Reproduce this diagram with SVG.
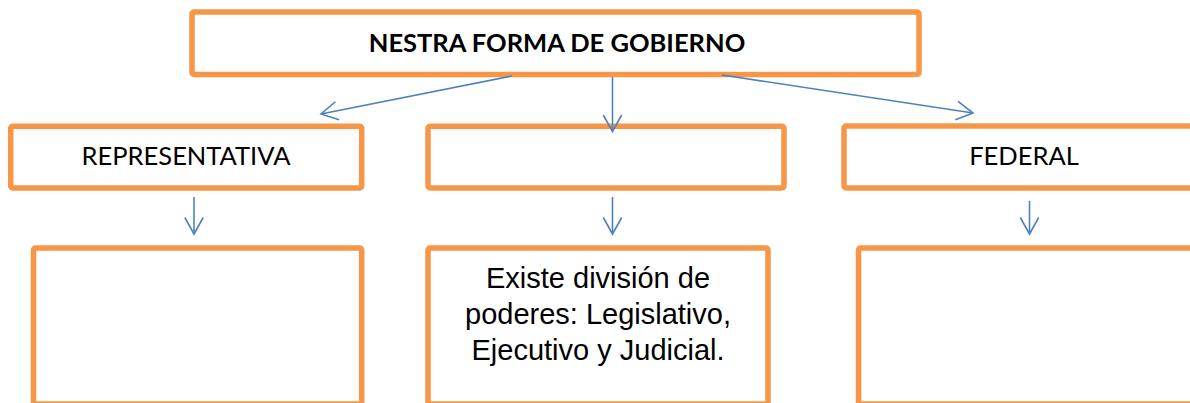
<svg xmlns="http://www.w3.org/2000/svg" width="1190" height="403" viewBox="0 0 1190 403">
  <defs>
    <marker id="arr" markerUnits="userSpaceOnUse" markerWidth="40" markerHeight="40" refX="0" refY="0" viewBox="-20 -20 40 40" orient="auto" overflow="visible">
      <path d="M -16.5 -9.2 L 0 0 L -16.5 9.2" fill="none" stroke="#4F81BD" stroke-width="1.6"/>
    </marker>
  </defs>
  <style>
    .box { fill: #FFFFFF; stroke: #F79646; stroke-width: 5.5; }
    .cal { font-family: Lato, "Liberation Sans", sans-serif; font-size: 25.5px; fill: #000000; text-anchor: middle; }
    .bold { font-weight: bold; font-size: 25.5px; }
    .ari { font-family: "Liberation Sans", Arial, sans-serif; font-size: 29px; fill: #000000; text-anchor: middle; }
    .conn { fill: none; stroke: #4F81BD; stroke-width: 1.6; marker-end: url(#arr); }
  </style>
  <rect width="1190" height="403" fill="#FFFFFF"/>

  <g id="n-top">
    <rect class="box" x="192" y="12" width="727" height="62.5" rx="2"/>
    <text class="cal bold" x="557" y="52">NESTRA FORMA DE GOBIERNO</text>
  </g>
  <g id="n-representativa">
    <rect class="box" x="10.7" y="126.3" width="351" height="61.7" rx="2"/>
    <text class="cal" x="186" y="165">REPRESENTATIVA</text>
  </g>
  <g id="n-middle">
    <rect class="box" x="428" y="126.3" width="356" height="61.7" rx="2"/>
  </g>
  <g id="n-federal">
    <rect class="box" x="844" y="126" width="360" height="62" rx="2"/>
    <text class="cal" x="1024" y="165">FEDERAL</text>
  </g>
  <g id="n-left-bottom">
    <rect class="box" x="33.5" y="248" width="328.2" height="156" rx="2"/>
  </g>
  <g id="n-division">
    <rect class="box" x="428" y="248" width="340" height="156" rx="2"/>
    <text class="ari" x="598" y="288">Existe división de</text>
    <text class="ari" x="598" y="324">poderes: Legislativo,</text>
    <text class="ari" x="598" y="360">Ejecutivo y Judicial.</text>
  </g>
  <g id="n-right-bottom">
    <rect class="box" x="858.5" y="248" width="345" height="156" rx="2"/>
  </g>

  <g id="connectors">
    <line class="conn" x1="512" y1="76" x2="321" y2="114"/>
    <line class="conn" x1="612.5" y1="77" x2="612.5" y2="131.5"/>
    <line class="conn" x1="722" y1="75" x2="973" y2="113"/>
    <line class="conn" x1="194" y1="197" x2="194" y2="234"/>
    <line class="conn" x1="612.5" y1="197" x2="612.5" y2="234"/>
    <line class="conn" x1="1029.5" y1="201" x2="1029.5" y2="234"/>
  </g>
</svg>
